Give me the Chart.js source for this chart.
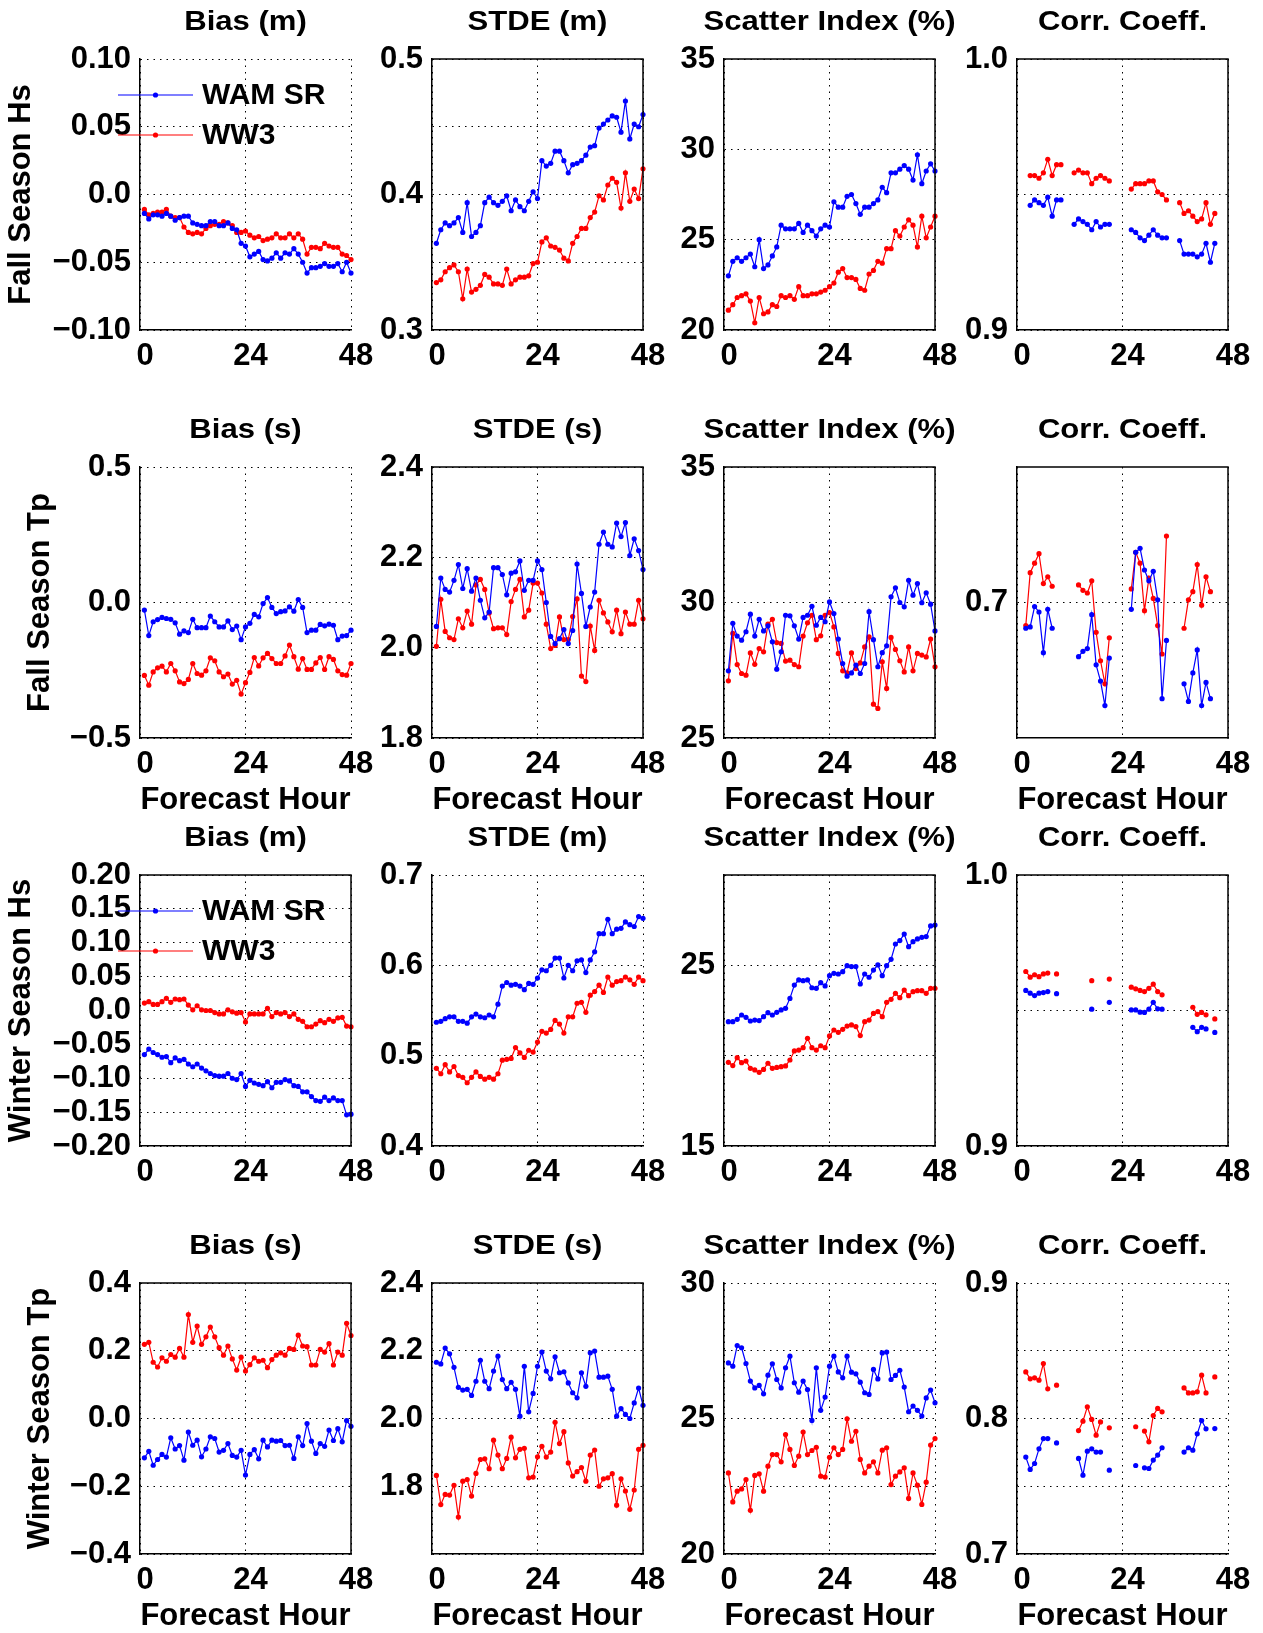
<!DOCTYPE html>
<html>
<head>
<meta charset="utf-8">
<script src="https://cdn.jsdelivr.net/npm/chart.js@4.4.0/dist/chart.umd.min.js"></script>
<style>
  html, body { margin: 0; padding: 0; background: #fff; }
  #fig { position: relative; width: 1263px; height: 1633px; overflow: hidden; background: #fff; }
  #fig canvas { position: absolute; }
</style>
</head>
<body>
<div id="fig"></div>
<script>
const _ = null;

// forecast hours of every sample
const hours = [1,2,3,4,5,6,7,8,9,10,11,12,13,14,15,16,17,18,19,20,21,22,23,24,
               25,26,27,28,29,30,31,32,33,34,35,36,37,38,39,40,41,42,43,44,45,46,47,48];
const xTicks = [0, 24, 48];
const xTickLabels = ['0', '24', '48'];

const seriesNames = ['WAM SR', 'WW3'];
const rowLabels = ['Fall Season Hs', 'Fall Season Tp', 'Winter Season Hs', 'Winter Season Tp'];
const colTitlesHs = ['Bias (m)', 'STDE (m)', 'Scatter Index (%)', 'Corr. Coeff.'];
const colTitlesTp = ['Bias (s)', 'STDE (s)', 'Scatter Index (%)', 'Corr. Coeff.'];

// ---- Fall season, Hs ----
const fallHsBiasWam = [-0.014,-0.018,-0.015,-0.015,-0.016,-0.014,-0.016,-0.019,-0.017,-0.016,
  -0.016,-0.021,-0.022,-0.023,-0.023,-0.020,-0.020,-0.023,-0.023,-0.021,
  -0.025,-0.026,-0.036,-0.038,-0.046,-0.044,-0.042,-0.048,-0.049,-0.047,
  -0.043,-0.047,-0.043,-0.044,-0.040,-0.044,-0.050,-0.058,-0.054,-0.054,
  -0.053,-0.051,-0.053,-0.053,-0.051,-0.057,-0.050,-0.058];
const fallHsBiasWw3 = [-0.011,-0.015,-0.014,-0.013,-0.013,-0.011,-0.016,-0.017,-0.017,-0.024,
  -0.028,-0.029,-0.028,-0.029,-0.025,-0.023,-0.022,-0.022,-0.020,-0.021,
  -0.023,-0.028,-0.028,-0.027,-0.030,-0.032,-0.031,-0.034,-0.033,-0.032,
  -0.029,-0.032,-0.032,-0.029,-0.032,-0.029,-0.033,-0.044,-0.039,-0.039,
  -0.040,-0.036,-0.038,-0.039,-0.039,-0.044,-0.045,-0.048];
const fallHsStdeWam = [0.364,0.374,0.379,0.377,0.379,0.383,0.372,0.394,0.369,0.372,
  0.377,0.394,0.398,0.394,0.392,0.395,0.399,0.388,0.396,0.391,
  0.388,0.395,0.402,0.397,0.425,0.421,0.423,0.432,0.432,0.425,
  0.416,0.422,0.423,0.425,0.429,0.435,0.436,0.449,0.452,0.455,
  0.458,0.457,0.446,0.469,0.441,0.452,0.450,0.459];
const fallHsStdeWw3 = [0.335,0.337,0.343,0.346,0.348,0.343,0.323,0.345,0.328,0.330,
  0.333,0.341,0.339,0.334,0.334,0.333,0.345,0.334,0.337,0.339,
  0.339,0.340,0.349,0.350,0.365,0.368,0.362,0.361,0.359,0.353,
  0.351,0.364,0.369,0.375,0.375,0.383,0.387,0.399,0.396,0.407,
  0.412,0.409,0.390,0.416,0.395,0.404,0.397,0.419];
const fallHsSiWam = [23.0,23.8,24.0,23.8,24.0,24.2,23.5,25.0,23.4,23.6,
  24.1,24.6,25.8,25.6,25.6,25.6,25.9,25.4,25.8,25.5,
  25.2,25.6,25.8,25.7,27.1,26.8,26.8,27.4,27.5,27.0,
  26.4,26.8,26.8,27.0,27.2,27.9,27.6,28.7,28.7,28.9,
  29.1,28.9,28.3,29.7,28.1,28.8,29.2,28.8];
const fallHsSiWw3 = [21.1,21.4,21.8,21.9,22.0,21.6,20.4,21.8,20.9,21.0,
  21.4,21.3,21.9,21.8,21.9,21.7,22.4,21.9,21.9,22.0,
  22.0,22.1,22.2,22.4,22.6,23.2,23.4,22.9,22.9,22.8,
  22.3,22.2,23.1,23.3,23.8,23.7,24.5,24.5,25.5,25.2,
  25.7,26.1,25.8,24.6,26.3,25.1,25.7,26.3];
const fallHsCcWam = [_,_,0.946,0.948,0.947,0.946,0.949,0.942,0.948,0.948,
  _,_,0.939,0.941,0.940,0.939,0.937,0.940,0.938,0.939,0.939,
  _,_,_,_,0.937,0.936,0.934,0.933,0.935,0.937,0.935,0.934,0.934,
  _,_,0.933,0.928,0.928,0.928,0.927,0.928,0.932,0.925,0.932,_,_,_];
const fallHsCcWw3 = [_,_,0.957,0.957,0.956,0.958,0.963,0.957,0.961,0.961,
  _,_,0.958,0.959,0.958,0.958,0.954,0.956,0.957,0.956,0.955,
  _,_,_,_,0.952,0.954,0.954,0.954,0.955,0.955,0.951,0.950,0.948,
  _,_,0.947,0.943,0.944,0.942,0.940,0.941,0.947,0.939,0.943,_,_,_];

// ---- Fall season, Tp ----
const fallTpBiasWam = [-0.028,-0.122,-0.071,-0.063,-0.055,-0.059,-0.062,-0.075,-0.117,-0.105,
  -0.111,-0.062,-0.093,-0.093,-0.093,-0.050,-0.071,-0.090,-0.090,-0.068,
  -0.100,-0.087,-0.137,-0.090,-0.077,-0.044,-0.053,-0.004,0.018,-0.018,
  -0.041,-0.034,-0.031,-0.016,-0.032,0.011,-0.018,-0.111,-0.102,-0.102,
  -0.081,-0.086,-0.080,-0.084,-0.137,-0.124,-0.122,-0.102];
const fallTpBiasWw3 = [-0.269,-0.305,-0.256,-0.241,-0.235,-0.256,-0.225,-0.252,-0.293,-0.299,
  -0.284,-0.225,-0.262,-0.268,-0.252,-0.204,-0.215,-0.256,-0.274,-0.264,
  -0.301,-0.287,-0.338,-0.296,-0.258,-0.203,-0.234,-0.204,-0.188,-0.207,
  -0.225,-0.225,-0.197,-0.157,-0.200,-0.246,-0.207,-0.247,-0.247,-0.223,
  -0.203,-0.247,-0.200,-0.210,-0.252,-0.266,-0.268,-0.225];
const fallTpStdeWam = [2.047,2.154,2.129,2.123,2.149,2.184,2.131,2.175,2.125,2.154,
  2.105,2.066,2.079,2.177,2.177,2.162,2.117,2.165,2.168,2.192,
  2.127,2.149,2.149,2.192,2.173,2.100,2.025,2.009,2.020,2.040,
  2.009,2.038,2.185,2.120,2.047,2.090,2.123,2.229,2.256,2.229,
  2.223,2.276,2.246,2.277,2.204,2.241,2.215,2.173];
const fallTpStdeWw3 = [2.003,2.107,2.036,2.022,2.018,2.064,2.044,2.081,2.052,2.139,
  2.151,2.129,2.077,2.042,2.044,2.044,2.029,2.102,2.129,2.151,
  2.068,2.083,2.143,2.143,2.121,2.052,1.998,2.005,2.068,2.018,
  2.018,2.069,2.108,1.937,1.925,2.048,1.994,2.105,2.077,2.057,
  2.035,2.083,2.031,2.079,2.052,2.052,2.105,2.064];
const fallTpSiWam = [27.48,29.23,28.76,28.61,28.92,29.57,28.76,29.38,28.95,29.14,
  28.55,27.54,28.18,29.53,29.51,29.14,28.65,29.45,29.53,29.86,
  29.16,29.45,29.29,30.02,29.59,28.65,27.75,27.28,27.40,27.69,
  27.38,27.75,29.66,28.63,27.63,28.15,28.40,30.21,30.54,30.00,
  29.84,30.82,30.27,30.70,29.99,30.36,29.94,28.95];
const fallTpSiWw3 = [27.11,28.86,27.71,27.38,27.32,28.14,27.72,28.30,28.18,29.20,
  29.38,28.52,28.49,27.84,27.87,27.71,27.63,28.76,29.25,29.53,
  28.63,28.77,29.53,29.63,29.10,28.12,27.48,27.40,28.14,27.56,
  27.77,28.36,28.73,26.25,26.09,27.81,26.83,28.71,28.27,27.85,
  27.44,28.36,27.48,28.12,28.06,27.99,28.65,27.63];
const fallTpCcWam = [_,0.681,0.682,0.697,0.693,0.663,0.695,0.681,_,_,_,_,_,
  0.660,0.664,0.666,0.691,0.654,0.642,0.624,0.659,_,_,_,_,
  0.695,0.737,0.740,0.724,0.716,0.723,0.702,0.629,0.672,_,_,_,
  0.640,0.627,0.648,0.665,0.624,0.641,0.629,_,_,_,_];
const fallTpCcWw3 = [_,0.683,0.722,0.729,0.736,0.714,0.719,0.712,_,_,_,_,_,
  0.713,0.709,0.707,0.716,0.678,0.657,0.640,0.674,_,_,_,_,
  0.710,0.737,0.729,0.694,0.718,0.703,0.683,0.662,0.749,_,_,_,
  0.681,0.702,0.708,0.728,0.698,0.719,0.708,_,_,_,_];

// ---- Winter season, Hs ----
const winterHsBiasWam = [-0.065,-0.057,-0.062,-0.065,-0.069,-0.068,-0.077,-0.070,-0.074,-0.072,
  -0.079,-0.083,-0.079,-0.085,-0.089,-0.093,-0.096,-0.097,-0.097,-0.093,
  -0.100,-0.102,-0.093,-0.112,-0.103,-0.107,-0.109,-0.111,-0.105,-0.114,
  -0.106,-0.106,-0.102,-0.104,-0.111,-0.112,-0.120,-0.120,-0.127,-0.133,
  -0.134,-0.128,-0.133,-0.129,-0.133,-0.133,-0.154,-0.153];
const winterHsBiasWw3 = [0.011,0.013,0.009,0.009,0.013,0.018,0.012,0.017,0.016,0.017,
  0.008,0.001,0.007,0.001,0.000,0.000,-0.003,-0.005,-0.005,0.001,
  -0.002,-0.004,-0.003,-0.017,-0.005,-0.005,-0.005,-0.005,0.003,-0.009,
  -0.003,-0.005,-0.003,-0.009,-0.005,-0.013,-0.016,-0.024,-0.024,-0.020,
  -0.015,-0.018,-0.013,-0.016,-0.011,-0.010,-0.023,-0.024];
const winterHsStdeWam = [0.537,0.538,0.541,0.543,0.543,0.538,0.538,0.536,0.543,0.546,
  0.543,0.542,0.545,0.543,0.557,0.577,0.581,0.578,0.579,0.577,
  0.573,0.580,0.579,0.586,0.595,0.594,0.600,0.608,0.608,0.586,
  0.600,0.594,0.605,0.606,0.592,0.606,0.615,0.635,0.635,0.651,
  0.635,0.640,0.641,0.648,0.645,0.643,0.654,0.652];
const winterHsStdeWw3 = [0.486,0.480,0.490,0.482,0.488,0.478,0.476,0.470,0.476,0.482,
  0.477,0.474,0.476,0.474,0.480,0.495,0.496,0.497,0.509,0.503,
  0.498,0.506,0.504,0.515,0.527,0.525,0.529,0.539,0.535,0.525,
  0.543,0.543,0.558,0.559,0.548,0.567,0.571,0.578,0.570,0.587,
  0.578,0.582,0.583,0.587,0.584,0.579,0.587,0.583];
const winterHsSiWam = [21.88,21.88,22.01,22.25,22.12,21.92,21.97,21.94,22.16,22.38,
  22.25,22.40,22.53,22.62,23.17,23.91,24.19,24.15,24.19,23.76,
  23.73,24.04,23.86,24.43,24.56,24.52,24.65,24.98,24.93,24.93,
  23.97,24.52,24.34,24.74,25.02,24.43,24.98,25.33,26.18,26.37,
  26.73,26.03,26.31,26.46,26.55,26.59,27.18,27.23];
const winterHsSiWw3 = [19.63,19.45,19.89,19.61,19.70,19.30,19.21,19.08,19.24,19.58,
  19.30,19.35,19.39,19.43,19.76,20.26,20.31,20.44,20.96,20.44,
  20.31,20.55,20.44,21.09,21.42,21.29,21.46,21.64,21.70,21.61,
  21.11,21.88,21.97,22.34,22.44,22.16,22.95,23.12,23.45,23.21,
  23.63,23.32,23.54,23.60,23.60,23.45,23.73,23.73];
const winterHsCcWam = [_,0.9574,0.9564,0.9555,0.9564,0.9566,0.9570,_,0.9562,
  _,_,_,_,_,_,_,0.9505,_,_,_,0.9530,_,_,_,_,
  0.9502,0.9502,0.9494,0.9493,0.9505,0.9530,0.9506,0.9505,
  _,_,_,_,_,_,0.9438,0.9422,0.9438,0.9432,_,0.9419,_,_,_];
const winterHsCcWw3 = [_,0.9644,0.9623,0.9632,0.9625,0.9635,0.9638,_,0.9635,
  _,_,_,_,_,_,_,0.9610,_,_,_,0.9616,_,_,_,_,
  0.9586,0.9580,0.9574,0.9570,0.9582,0.9597,0.9570,0.9558,
  _,_,_,_,_,_,0.9512,0.9486,0.9493,0.9484,_,0.9469,_,_,_];

// ---- Winter season, Tp ----
const winterTpBiasWam = [-0.116,-0.097,-0.138,-0.121,-0.106,-0.114,-0.057,-0.090,-0.080,-0.123,
  -0.040,-0.079,-0.064,-0.113,-0.090,-0.054,-0.059,-0.099,-0.094,-0.074,
  -0.109,-0.114,-0.094,-0.167,-0.106,-0.092,-0.119,-0.064,-0.084,-0.064,
  -0.067,-0.065,-0.080,-0.079,-0.118,-0.054,-0.080,-0.015,-0.067,-0.103,
  -0.074,-0.082,-0.034,-0.065,-0.030,-0.069,-0.006,-0.023];
const winterTpBiasWw3 = [0.219,0.225,0.166,0.152,0.179,0.169,0.189,0.181,0.207,0.181,
  0.307,0.225,0.273,0.219,0.241,0.270,0.241,0.209,0.187,0.214,
  0.176,0.143,0.181,0.140,0.159,0.179,0.169,0.172,0.150,0.174,
  0.187,0.194,0.187,0.207,0.204,0.246,0.214,0.212,0.158,0.158,
  0.204,0.196,0.221,0.158,0.196,0.187,0.281,0.245];
const winterTpStdeWam = [2.166,2.161,2.208,2.191,2.151,2.092,2.084,2.086,2.068,2.110,
  2.172,2.110,2.088,2.140,2.184,2.115,2.088,2.107,2.086,2.007,
  2.154,2.020,2.074,2.154,2.196,2.140,2.117,2.182,2.135,2.138,
  2.105,2.076,2.061,2.135,2.095,2.194,2.199,2.122,2.122,2.125,
  2.086,2.007,2.029,2.012,2.000,2.046,2.090,2.039];
const winterTpStdeWw3 = [1.832,1.746,1.776,1.774,1.803,1.709,1.815,1.820,1.771,1.838,
  1.879,1.881,1.852,1.936,1.892,1.852,1.882,1.945,1.884,1.909,
  1.912,1.825,1.827,1.887,1.918,1.886,1.901,1.989,1.926,1.961,
  1.869,1.830,1.843,1.855,1.815,1.892,1.907,1.800,1.822,1.825,
  1.837,1.744,1.822,1.786,1.732,1.789,1.909,1.921];
const winterTpSiWam = [27.05,26.93,27.69,27.61,27.03,26.38,26.13,26.22,25.91,26.60,
  27.02,26.44,26.13,26.87,27.30,26.32,25.97,26.38,26.07,24.93,
  26.87,25.30,25.79,26.93,27.30,26.72,26.50,27.30,26.71,26.65,
  26.34,25.95,25.89,26.81,26.46,27.42,27.45,26.44,26.59,26.78,
  26.16,25.25,25.46,25.30,25.09,25.76,26.05,25.58];
const winterTpSiWw3 = [22.99,21.92,22.32,22.40,22.75,21.61,22.90,22.96,22.32,23.24,
  23.67,23.67,23.40,24.41,23.86,23.27,23.61,24.50,23.67,23.82,
  23.94,22.87,22.84,23.57,23.92,23.67,23.86,24.99,24.16,24.53,
  23.49,22.99,23.24,23.40,22.99,23.83,23.92,22.56,22.87,23.03,
  23.18,22.05,22.99,22.54,21.83,22.65,24.02,24.26];
const winterTpCcWam = [_,0.7715,0.7624,0.7668,0.7776,0.7852,0.7852,_,0.7820,_,_,_,_,
  0.7705,0.7582,0.7759,0.7776,0.7752,0.7752,_,0.7619,_,_,_,_,_,
  0.7653,_,0.7636,0.7631,0.7693,0.7730,0.7784,_,_,_,_,
  0.7752,0.7784,0.7766,0.7887,0.7985,0.7924,_,0.7926,_,_,_];
const winterTpCcWw3 = [_,0.8344,0.8293,0.8300,0.8283,0.8406,0.8219,_,0.8246,_,_,_,_,
  0.7911,0.7980,0.8086,0.7993,0.7877,0.7975,_,0.7931,_,_,_,_,_,
  0.7939,_,0.7907,0.7828,0.8022,0.8074,0.8049,_,_,_,_,
  0.8226,0.8189,0.8189,0.8197,0.8320,0.8189,_,0.8307,_,_,_];

// ---- y tick values and labels ----
const fallHsBiasTicks = [-0.1,-0.05,0,0.05,0.1];
const fallHsBiasLabels = ['−0.10','−0.05','0.0','0.05','0.10'];
const fallHsStdeTicks = [0.3,0.35,0.4,0.45,0.5];
const fallHsStdeLabels = ['0.3','','0.4','','0.5'];
const fallHsSiTicks = [20,25,30,35];
const fallHsSiLabels = ['20','25','30','35'];
const fallHsCcTicks = [0.9,0.95,1.0];
const fallHsCcLabels = ['0.9','','1.0'];
const fallTpBiasTicks = [-0.5,0,0.5];
const fallTpBiasLabels = ['−0.5','0.0','0.5'];
const fallTpStdeTicks = [1.8,2.0,2.2,2.4];
const fallTpStdeLabels = ['1.8','2.0','2.2','2.4'];
const fallTpSiTicks = [25,30,35];
const fallTpSiLabels = ['25','30','35'];
const fallTpCcTicks = [0.7];
const fallTpCcLabels = ['0.7'];
const winterHsBiasTicks = [-0.2,-0.15,-0.1,-0.05,0,0.05,0.1,0.15,0.2];
const winterHsBiasLabels = ['−0.20','−0.15','−0.10','−0.05','0.0','0.05','0.10','0.15','0.20'];
const winterHsStdeTicks = [0.4,0.5,0.6,0.7];
const winterHsStdeLabels = ['0.4','0.5','0.6','0.7'];
const winterHsSiTicks = [15,20,25,30];
const winterHsSiLabels = ['15','','25',''];
const winterHsCcTicks = [0.9,0.95,1.0];
const winterHsCcLabels = ['0.9','','1.0'];
const winterTpBiasTicks = [-0.4,-0.2,0,0.2,0.4];
const winterTpBiasLabels = ['−0.4','−0.2','0.0','0.2','0.4'];
const winterTpStdeTicks = [1.6,1.8,2.0,2.2,2.4];
const winterTpStdeLabels = ['','1.8','2.0','2.2','2.4'];
const winterTpSiTicks = [20,22.5,25,27.5,30];
const winterTpSiLabels = ['20','','25','','30'];
const winterTpCcTicks = [0.7,0.75,0.8,0.85,0.9];
const winterTpCcLabels = ['0.7','','0.8','','0.9'];

// panel table: data + axis range, "box" = solid top/right frame
const panels = [
  [fallHsBiasWam, fallHsBiasWw3, -0.1, 0.1, fallHsBiasTicks, fallHsBiasLabels, false],
  [fallHsStdeWam, fallHsStdeWw3, 0.3, 0.5, fallHsStdeTicks, fallHsStdeLabels, true],
  [fallHsSiWam, fallHsSiWw3, 20, 35, fallHsSiTicks, fallHsSiLabels, true],
  [fallHsCcWam, fallHsCcWw3, 0.9, 1.0, fallHsCcTicks, fallHsCcLabels, true],
  [fallTpBiasWam, fallTpBiasWw3, -0.5, 0.5, fallTpBiasTicks, fallTpBiasLabels, false],
  [fallTpStdeWam, fallTpStdeWw3, 1.8, 2.4, fallTpStdeTicks, fallTpStdeLabels, true],
  [fallTpSiWam, fallTpSiWw3, 25, 35, fallTpSiTicks, fallTpSiLabels, true],
  [fallTpCcWam, fallTpCcWw3, 0.6, 0.8, fallTpCcTicks, fallTpCcLabels, true],
  [winterHsBiasWam, winterHsBiasWw3, -0.2, 0.2, winterHsBiasTicks, winterHsBiasLabels, true],
  [winterHsStdeWam, winterHsStdeWw3, 0.4, 0.7, winterHsStdeTicks, winterHsStdeLabels, false],
  [winterHsSiWam, winterHsSiWw3, 15, 30, winterHsSiTicks, winterHsSiLabels, true],
  [winterHsCcWam, winterHsCcWw3, 0.9, 1.0, winterHsCcTicks, winterHsCcLabels, true],
  [winterTpBiasWam, winterTpBiasWw3, -0.4, 0.4, winterTpBiasTicks, winterTpBiasLabels, true],
  [winterTpStdeWam, winterTpStdeWw3, 1.6, 2.4, winterTpStdeTicks, winterTpStdeLabels, true],
  [winterTpSiWam, winterTpSiWw3, 20, 30, winterTpSiTicks, winterTpSiLabels, false],
  [winterTpCcWam, winterTpCcWw3, 0.7, 0.9, winterTpCcTicks, winterTpCcLabels, false]
];

// ---- layout ----
const FAMILY = '"Liberation Sans", Arial, Helvetica, sans-serif';
const colors = ['#0000ff', '#ff0000'];
const colLeft = [140, 432, 724, 1017];
const rowTop = [59, 467, 875, 1283];
const plotW = 211, plotH = 271;
const topPad = 59, rightPad = 30;

// frame, panel title and legend
const panelDecor = {
  id: 'panelDecor',
  afterDraw(chart, args, opts) {
    const ctx = chart.ctx;
    const a = chart.chartArea;
    ctx.save();
    if (opts.box) {
      ctx.strokeStyle = '#000';
      ctx.lineWidth = 1.5;
      ctx.beginPath();
      ctx.moveTo(a.left - 0.75, a.top);
      ctx.lineTo(a.right, a.top);
      ctx.lineTo(a.right, a.bottom + 0.75);
      ctx.stroke();
    }
    ctx.fillStyle = '#000';
    ctx.font = 'bold 28px ' + FAMILY;
    ctx.textAlign = 'center';
    ctx.textBaseline = 'middle';
    ctx.translate((a.left + a.right) / 2, a.top - 37);
    ctx.scale(1.11, 1);
    ctx.fillText(opts.title, 0, 0);
    ctx.restore();

    if (opts.legend) {
      ctx.save();
      chart.data.datasets.forEach((ds, i) => {
        const y = a.top + 36 + i * 40;
        ctx.strokeStyle = ds.borderColor;
        ctx.lineWidth = 1.2;
        ctx.beginPath();
        ctx.moveTo(a.left - 22, y);
        ctx.lineTo(a.left + 53, y);
        ctx.stroke();
        ctx.fillStyle = ds.borderColor;
        ctx.beginPath();
        ctx.arc(a.left + 15.5, y, 2.6, 0, Math.PI * 2);
        ctx.fill();
        ctx.fillStyle = '#000';
        ctx.font = 'bold 30px ' + FAMILY;
        ctx.textAlign = 'left';
        ctx.textBaseline = 'middle';
        ctx.fillText(ds.label, a.left + 62, y + 1);
      });
      ctx.restore();
    }
  }
};

const fig = document.getElementById('fig');

panels.forEach((p, k) => {
  const [wam, ww3, yMin, yMax, yTicks, yLabels, box] = p;
  const row = Math.floor(k / 4), col = k % 4;
  const yW = col === 0 ? colLeft[0] : 100;
  const xH = (row % 2 === 1) ? 90 : 45;
  const W = yW + plotW + rightPad;
  const H = topPad + plotH + xH;

  const canvas = document.createElement('canvas');
  canvas.width = W;
  canvas.height = H;
  canvas.style.left = (colLeft[col] - yW) + 'px';
  canvas.style.top = (rowTop[row] - topPad) + 'px';
  canvas.style.width = W + 'px';
  canvas.style.height = H + 'px';
  fig.appendChild(canvas);

  const titles = (row % 2 === 0) ? colTitlesHs : colTitlesTp;
  const tickFont = { family: FAMILY, size: 31, weight: 'bold' };

  const makeSet = (vals, i) => ({
    label: seriesNames[i],
    data: hours.map((h, j) => ({ x: h, y: vals[j] })),
    borderColor: colors[i],
    backgroundColor: colors[i],
    borderWidth: 1.2,
    pointRadius: 2.6,
    pointHoverRadius: 2.6,
    pointBorderWidth: 0,
    pointBackgroundColor: colors[i],
    spanGaps: false,
    tension: 0,
    clip: false
  });

  new Chart(canvas, {
    type: 'line',
    data: { datasets: [makeSet(wam, 0), makeSet(ww3, 1)] },
    options: {
      responsive: false,
      animation: false,
      events: [],
      layout: { padding: { top: topPad, right: rightPad, left: 0, bottom: 0 } },
      plugins: {
        legend: { display: false },
        tooltip: { enabled: false },
        panelDecor: { title: titles[col], box: box, legend: col === 0 && row % 2 === 0 }
      },
      scales: {
        x: {
          type: 'linear',
          min: 0,
          max: 48,
          afterBuildTicks: s => { s.ticks = xTicks.map(v => ({ value: v })); },
          afterFit: s => { s.height = xH; },
          ticks: {
            callback: (v, i) => xTickLabels[i],
            font: tickFont,
            color: '#000',
            padding: 8,
            labelOffset: 5,
            maxRotation: 0,
            autoSkip: false
          },
          grid: { color: '#000', lineWidth: 1, drawTicks: false },
          border: { display: true, color: '#000', width: 1.5, dash: [1.5, 5] },
          title: {
            display: row % 2 === 1,
            text: 'Forecast Hour',
            color: '#000',
            font: { family: FAMILY, size: 31, weight: 'bold' },
            padding: { top: 0, bottom: 9 }
          }
        },
        y: {
          type: 'linear',
          min: yMin,
          max: yMax,
          afterBuildTicks: s => { s.ticks = yTicks.map(v => ({ value: v })); },
          afterFit: s => { s.width = yW; },
          ticks: {
            callback: (v, i) => yLabels[i],
            font: tickFont,
            color: '#000',
            padding: 9,
            autoSkip: false
          },
          grid: { color: '#000', lineWidth: 1, drawTicks: false },
          border: { display: true, color: '#000', width: 1.5, dash: [1.5, 5] },
          title: {
            display: col === 0,
            text: rowLabels[row],
            color: '#000',
            font: { family: FAMILY, size: 31, weight: 'bold' },
            padding: { top: (row % 2 === 0) ? 3 : 22, bottom: 0 }
          }
        }
      }
    },
    plugins: [panelDecor]
  });
});
</script>
</body>
</html>
